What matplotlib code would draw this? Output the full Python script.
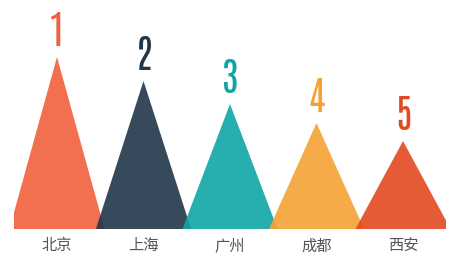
import matplotlib
matplotlib.use("Agg")
import matplotlib.pyplot as plt

plt.rcParams['font.family'] = ['Noto Sans CJK SC', 'DejaVu Sans']

cities = ["北京", "上海", "广州", "成都", "西安"]
ranks = ["1", "2", "3", "4", "5"]
values = [172, 148, 125, 106, 88]
colors = ["#f1603d", "#213649", "#0fa5a5", "#f5a235", "#e3491f"]

fig = plt.figure(figsize=(4.51, 2.54), dpi=100)
ax = fig.add_axes([0.0305, 0.0984, 0.959, 0.9016])
ax.set_xlim(-0.5, 4.5)
ax.set_ylim(0, 229)

half = 0.55  # half width of each peak, in category units
for i, (v, c, r) in enumerate(zip(values, colors, ranks)):
    ax.fill([i - half, i, i + half], [0, v, 0], color=c, alpha=0.9, lw=0, zorder=2)
    ax.text(i, v + 6, r, color=c, ha="center", va="bottom",
            family="Antonio", fontweight="light", fontsize=28)

ax.axhline(0, color="#e6e6e6", lw=1, zorder=1)
ax.set_xticks(range(len(cities)))
ax.set_xticklabels(cities, fontsize=11, color="#555555")
ax.tick_params(axis="x", length=0, pad=6)
ax.set_yticks([])
for s in ax.spines.values():
    s.set_visible(False)

fig.savefig("out.png")
